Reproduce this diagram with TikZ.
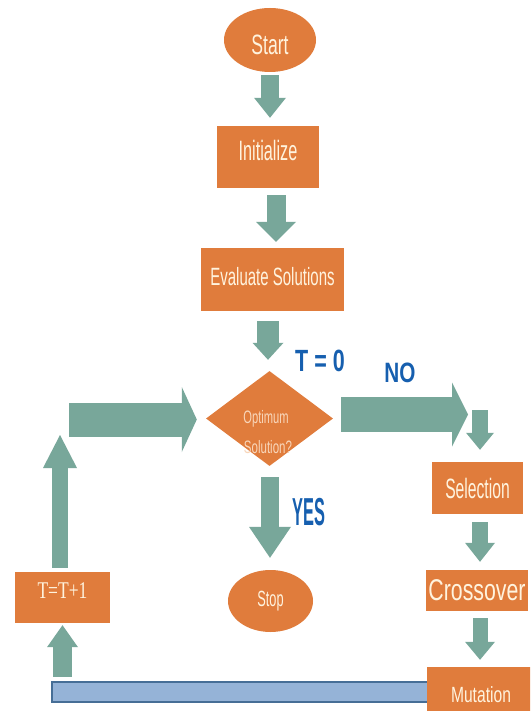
\documentclass[tikz,border=0pt]{standalone}
\usepackage{fontspec}
\setmainfont{Liberation Sans}
\newfontfamily\serifT{Liberation Serif}
\usepackage{graphicx}
\usetikzlibrary{shapes.geometric,arrows.meta}
\definecolor{orangec}{RGB}{224,124,60}
\definecolor{tealc}{RGB}{120,167,154}
\definecolor{bluec}{RGB}{22,95,175}
\definecolor{barc}{RGB}{149,179,215}
\definecolor{barb}{RGB}{70,110,150}
\definecolor{creamc}{RGB}{255,243,222}
\definecolor{palec}{RGB}{248,214,186}
\newcommand\bt[4][0pt]{\raisebox{#1}[\height][\depth]{\scalebox{#2}[1]{\fontsize{#3}{#3}\selectfont #4}}}
\tikzset{
  box/.style={rectangle, fill=orangec, inner sep=0pt, text=creamc},
  oval/.style={ellipse, fill=orangec, inner sep=0pt, text=creamc},
  lbl/.style={text=bluec, inner sep=0pt},
  blk/.style n args={3}{draw=tealc, line width=#1, -{Triangle[width=#2, length=#3, line width=0pt]}},
}
\begin{document}
\begin{tikzpicture}[x=1pt,y=-1pt]
\useasboundingbox (0,0) rectangle (530,711);
\fill[white] (0,0) rectangle (530,711);
\begin{scope}
\clip (0,0) rectangle (530,711);
% nodes
\node[oval, minimum width=92pt, minimum height=64pt] (start) at (270,40) {\bt[-5pt]{0.63}{28}{Start}};
\node[box, minimum width=102pt, minimum height=62pt] (init) at (268,157) {\bt[7pt]{0.58}{28}{Initialize}};
\node[box, minimum width=143pt, minimum height=63pt] (eval) at (272.5,279.5) {\bt[3pt]{0.60}{25}{Evaluate Solutions}};
\node[diamond, fill=orangec, minimum width=127pt, minimum height=95pt, inner sep=0pt, aspect=1.34] (dec) at (269.5,418.5) {};
\node[text=palec, inner sep=0pt] (opt) at (266,418.4) {\bt{0.62}{18}{Optimum}};
\node[text=palec, inner sep=0pt] (sol) at (268,447.5) {\bt{0.64}{18}{Solution?}};
\node[box, minimum width=91pt, minimum height=52pt] (sel) at (477.5,488) {\bt{0.56}{28}{Selection}};
\node[box, minimum width=102pt, minimum height=41pt] (cross) at (477,590.5) {\bt{0.71}{30}{Crossover}};
\node[rectangle, fill=barc, draw=barb, line width=1.5pt, minimum width=378pt, minimum height=20pt, inner sep=0pt] (bar) at (241,692) {};
\node[box, minimum width=108pt, minimum height=56pt] (mut) at (481,695) {\bt{0.71}{22}{Mutation}};
\node[oval, minimum width=85pt, minimum height=62pt] (stop) at (270.5,601) {\bt{0.58}{22}{Stop}};
\node[box, minimum width=95pt, minimum height=51pt] (tbox) at (62.5,597.5) {\bt[7pt]{0.73}{24}{\serifT T=T+1}};
% labels
\node[lbl] (t0) at (320,361) {\bt{0.70}{30.7}{\bfseries T = 0}};
\node[lbl] (no) at (400,373) {\bt{0.74}{28}{\bfseries NO}};
\node[lbl] (yes) at (309,512) {\bt{0.42}{39}{\bfseries YES}};
% free ends
\coordinate (noend) at (468,414.5);
\coordinate (nodrop) at (480,410);
\coordinate (upend) at (60,435);
\coordinate (rstart) at (69,419.5);
% connectors
\draw[blk={18pt}{32pt}{20pt}, shorten <=3pt, shorten >=8pt] (start.south) -- (start.south |- init.north);
\draw[blk={19pt}{40pt}{20pt}, shorten <=7pt, shorten >=6pt] ([xshift=8pt]init.south) -- ([xshift=3.5pt]eval.north);
\draw[blk={22pt}{31pt}{17pt}, shorten <=10pt, shorten >=11pt] ([xshift=-4.5pt]eval.south) -- ([xshift=-1.5pt]dec.north);
\draw[blk={18pt}{42pt}{31pt}, shorten <=11pt, shorten >=12pt] ([xshift=0.5pt]dec.south) -- ([xshift=-0.5pt]stop.north);
\draw[blk={35pt}{64pt}{16pt}, shorten <=8pt] ([yshift=4pt]dec.east) -- (noend);
\draw[blk={16pt}{28pt}{17pt}, shorten >=12pt] (nodrop) -- (nodrop |- sel.north);
\draw[blk={16pt}{30pt}{19pt}, shorten <=8pt, shorten >=8pt] ([xshift=2.5pt]sel.south) -- ([xshift=3pt]cross.north);
\draw[blk={15pt}{30pt}{18pt}, shorten <=7pt, shorten >=7pt] ([xshift=3pt]cross.south) -- ([xshift=-1pt]mut.north);
\draw[blk={19pt}{31pt}{22pt}, shorten <=4.5pt, shorten >=2pt] (tbox.south |- bar.north) -- (tbox.south);
\draw[blk={16pt}{34pt}{33pt}, shorten <=4pt] (upend |- tbox.north) -- (upend);
\draw[blk={34pt}{65pt}{15pt}, shorten >=9pt] (rstart) -- (rstart -| dec.west);
\end{scope}
\end{tikzpicture}
\end{document}
